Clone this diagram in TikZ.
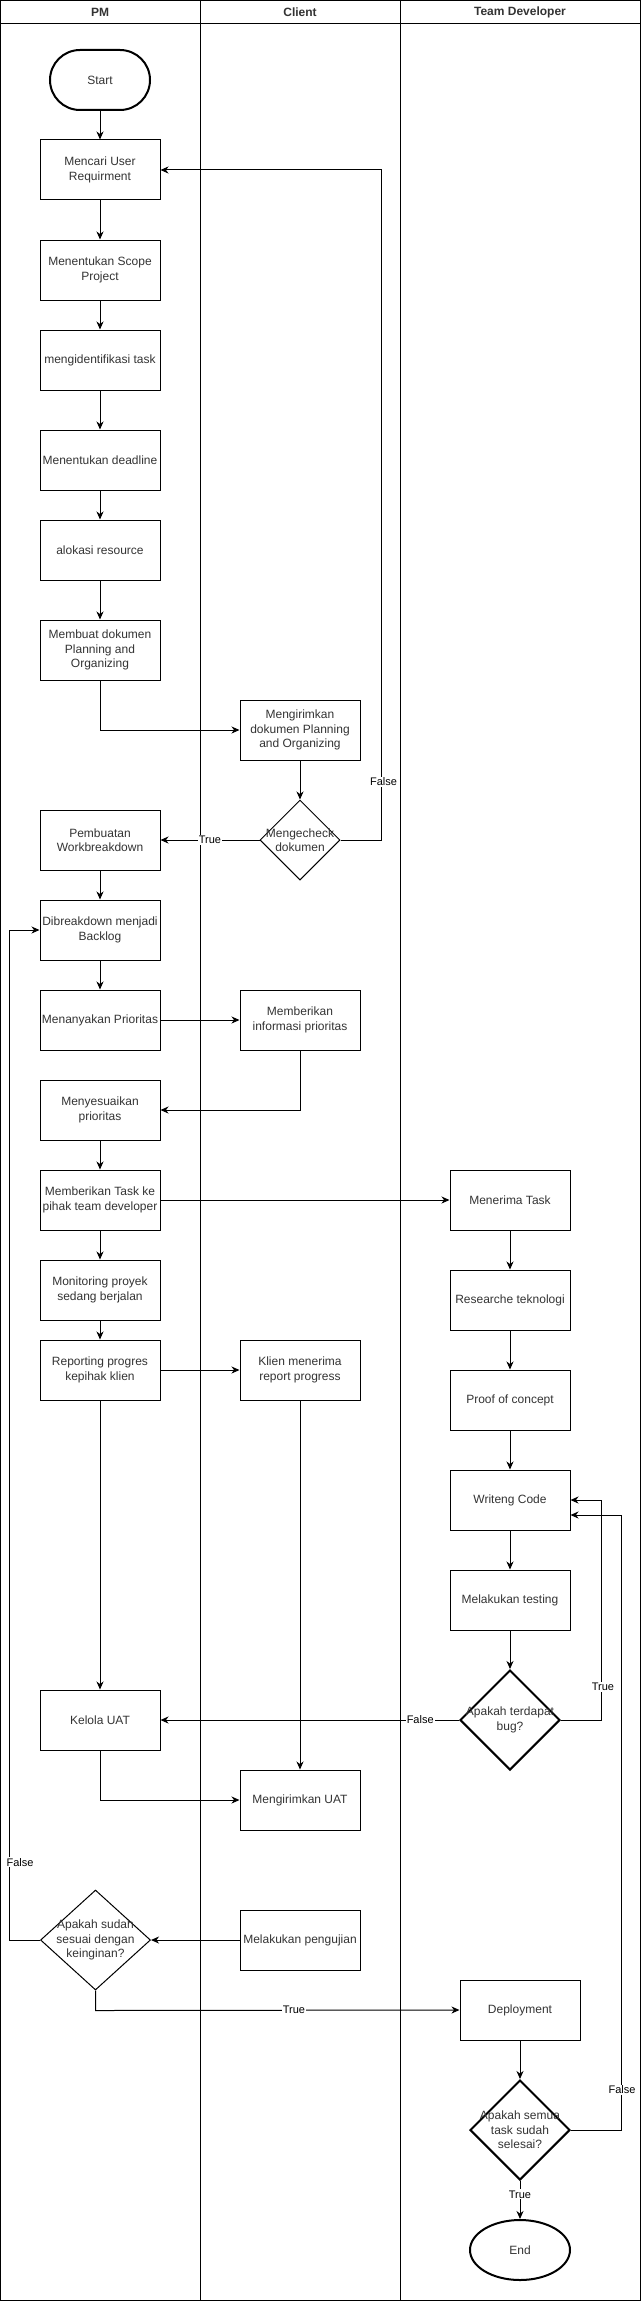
\documentclass[tikz,border=0pt]{standalone}
\usepackage{fontspec}
\setmainfont{Liberation Sans}
\usetikzlibrary{shapes.geometric,arrows.meta}
\definecolor{textgray}{HTML}{333333}
\begin{document}
\begin{tikzpicture}[x=1pt,y=-1pt,
  proc/.style={draw,line width=1pt,minimum width=120pt,minimum height=60pt,inner sep=0pt,align=center,text=textgray,font=\fontsize{12}{14.4}\selectfont},
  diam/.style={draw,diamond,inner sep=0pt,line width=1pt},
  thickdiam/.style={diam,line width=2pt},
  dtext/.style={align=center,text=textgray,font=\fontsize{12}{14.4}\selectfont,inner sep=0pt},
  arr/.style={-{Stealth[length=8pt,width=7pt,inset=2.5pt]},line width=1pt},
  lbl/.style={fill=white,inner sep=1pt,font=\fontsize{11}{13}\selectfont,text=black},
  hdr/.style={font=\bfseries\fontsize{12}{14.4}\selectfont,text=textgray},
  lane/.style={line width=1pt}
]
\useasboundingbox (0,0) rectangle (641,2301);
% lanes
\draw[lane] (0.5,0.5) rectangle (640.5,2300.5);
\draw[lane] (0.5,23.5) -- (640.5,23.5);
\draw[lane] (200,0.5) -- (200,2300.5);
\draw[lane] (400,0.5) -- (400,2300.5);
\node[hdr] (hpm) at (100,12) {PM};
\node[hdr] (hcl) at (300,12) {Client};
\node[hdr] (htd) at (520,12) {Team Developer};

% PM column
\node[draw,line width=2pt,rounded corners=30pt,minimum width=100pt,minimum height=60pt,inner sep=0pt,text=textgray,font=\fontsize{12}{14.4}\selectfont] (start) at (100,80) {Start};
\node[proc] (mencari) at (100,170) {Mencari User\\Requirment};
\node[proc] (scope) at (100,270) {Menentukan Scope\\Project};
\node[proc] (ident) at (100,360) {mengidentifikasi task};
\node[proc] (deadline) at (100,460) {Menentukan deadline};
\node[proc] (alok) at (100,550) {alokasi resource};
\node[proc] (membuat) at (100,650) {Membuat dokumen\\Planning and\\Organizing};
\node[proc] (wbs) at (100,840) {Pembuatan\\Workbreakdown};
\node[proc] (dib) at (100,930) {Dibreakdown menjadi\\Backlog};
\node[proc] (tanya) at (100,1020) {Menanyakan Prioritas};
\node[proc] (sesuai) at (100,1110) {Menyesuaikan\\prioritas};
\node[proc] (task) at (100,1200) {Memberikan Task ke\\pihak team developer};
\node[proc] (monitor) at (100,1290) {Monitoring proyek\\sedang berjalan};
\node[proc] (report) at (100,1370) {Reporting progres\\kepihak klien};
\node[proc] (kelola) at (100,1720) {Kelola UAT};
\node[diam,minimum width=110pt,minimum height=100pt] (sudah) at (95.5,1940) {};
\node[dtext] (sudaht) at (95.5,1940) {Apakah sudah\\sesuai dengan\\keinginan?};

% Client column
\node[proc] (kirim) at (300,730) {Mengirimkan\\dokumen Planning\\and Organizing};
\node[diam,minimum width=80pt,minimum height=80pt] (cek) at (300,840) {};
\node[dtext] (cekt) at (300,840) {Mengecheck\\dokumen};
\node[proc] (info) at (300,1020) {Memberikan\\informasi prioritas};
\node[proc] (klien) at (300,1370) {Klien menerima\\report progress};
\node[proc] (kirimuat) at (300,1800) {Mengirimkan UAT};
\node[proc] (uji) at (300,1940) {Melakukan pengujian};

% Team developer column
\node[proc] (terima) at (510,1200) {Menerima Task};
\node[proc] (research) at (510,1300) {Researche teknologi};
\node[proc] (poc) at (510,1400) {Proof of concept};
\node[proc] (code) at (510,1500) {Writeng Code};
\node[proc] (testing) at (510,1600) {Melakukan testing};
\node[thickdiam,minimum width=100pt,minimum height=100pt] (bug) at (510,1720) {};
\node[dtext] (bugt) at (510,1720) {Apakah terdapat\\bug?};
\node[proc] (deploy) at (520,2010) {Deployment};
\node[thickdiam,minimum width=100pt,minimum height=100pt] (semua) at (520,2130) {};
\node[dtext] (semuat) at (520,2130) {Apakah semua\\task sudah\\selesai?};
\node[draw,ellipse,line width=2pt,minimum width=100pt,minimum height=60pt,inner sep=0pt,text=textgray,font=\fontsize{12}{14.4}\selectfont] (end) at (520,2250) {End};

% connectors
\draw[arr] (start) -- (mencari);
\draw[arr] (mencari) -- (scope);
\draw[arr] (scope) -- (ident);
\draw[arr] (ident) -- (deadline);
\draw[arr] (deadline) -- (alok);
\draw[arr] (alok) -- (membuat);
\draw[arr] (membuat.south) |- (kirim.west);
\draw[arr] (kirim) -- (cek);
\draw[arr] (cek.west) -- node[lbl]{True} (wbs.east);
\draw[arr] (cek.east) -- ++(40.6,0) -- node[lbl,pos=0.087,xshift=2.5pt]{False} ++(0,-670) -- (mencari.east);
\draw[arr] (wbs) -- (dib);
\draw[arr] (dib) -- (tanya);
\draw[arr] (tanya.east) -- (info.west);
\draw[arr] (info.south) |- (sesuai.east);
\draw[arr] (sesuai) -- (task);
\draw[arr] (task.east) -- (terima.west);
\draw[arr] (task) -- (monitor);
\draw[arr] (monitor) -- (report);
\draw[arr] (report.east) -- (klien.west);
\draw[arr] (report) -- (kelola);
\draw[arr] (klien) -- (kirimuat);
\draw[arr] (kelola.south) |- (kirimuat.west);
\draw[arr] (terima) -- (research);
\draw[arr] (research) -- (poc);
\draw[arr] (poc) -- (code);
\draw[arr] (code) -- (testing);
\draw[arr] (testing) -- (bug);
\draw[arr] (bug.west) -- node[lbl,pos=0.13]{False} (kelola.east);
\draw[arr] (bug.east) -- ++(40,0) -- node[lbl,pos=0.15,xshift=2pt]{True} ++(0,-220) -- (code.east);
\draw[arr] (uji.west) -- (sudah.east);
\draw[arr] (sudah.west) -- ++(-31,0) -- node[lbl,pos=0.077,xshift=11pt]{False} ++(0,-1010) -- (dib.west);
\draw[arr] (sudah.south) -- ++(0,20) -- node[lbl,pos=0.545]{True} (deploy.west);
\draw[arr] (deploy) -- (semua);
\draw[arr] (semua.east) -- ++(50,0) -- node[lbl,pos=0.065,xshift=1pt]{False} ++(0,-615) -- ([yshift=-15pt]code.east);
\draw[arr] (semua.south) -- node[lbl,pos=0.35]{True} (end.north);
\end{tikzpicture}
\end{document}
